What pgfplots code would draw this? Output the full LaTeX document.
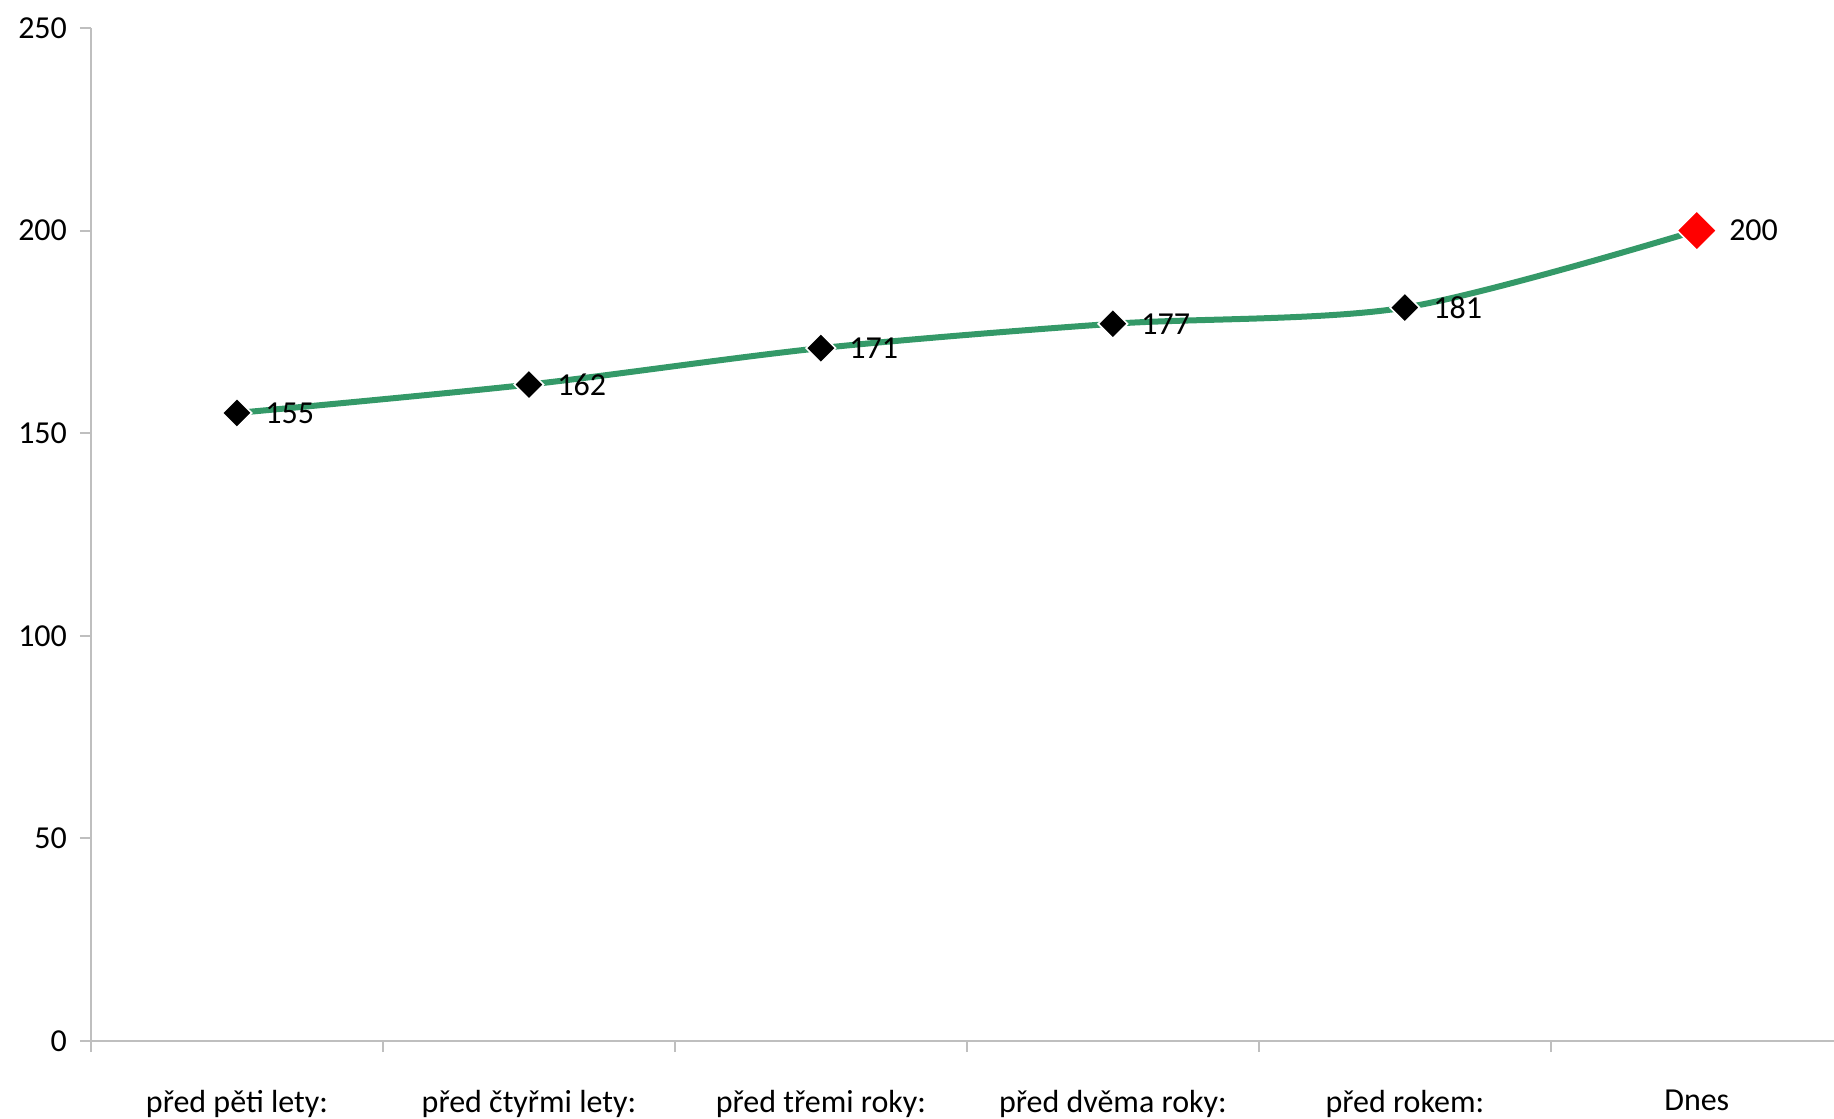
\documentclass[border=0pt]{standalone}
\usepackage{pgfplots}
\pgfplotsset{compat=1.18}
\usepackage{fontspec}
\setmainfont{Carlito}
\definecolor{linegreen}{RGB}{52,153,104}
\definecolor{axisgray}{RGB}{191,191,191}
\begin{document}
\fontsize{16pt}{19pt}\selectfont
\begin{tikzpicture}
\useasboundingbox (-45.5pt,-38.5pt) rectangle (871.5pt,520.5pt);
\begin{axis}[
  scale only axis, width=871.5pt, height=506.5pt,
  xmin=-0.5, xmax=5.47, ymin=0, ymax=250,
  axis x line*=bottom, axis y line*=left,
  axis line style={draw=axisgray, line width=1pt, -},
  tick align=outside, major tick length=5.5pt,
  every tick/.style={draw=axisgray, line width=1pt},
  ytick={0,50,...,250},
  xtick={-0.5,0.5,1.5,2.5,3.5,4.5},
  xticklabels={},
  extra x ticks={0,1,2,3,4,5},
  extra x tick labels={před pěti lety:, před čtyřmi lety:, před třemi roky:, před dvěma roky:, před rokem:, Dnes},
  extra x tick style={major tick length=0pt, xticklabel style={yshift=-19pt}},
  yticklabel style={xshift=-1pt},
  /pgf/number format/assume math mode=true,
  every tick label/.append style={font=\fontsize{16pt}{19pt}\selectfont},
  clip=false,
]
\addplot[linegreen, line width=3pt, smooth] coordinates {(0,155)(1,162)(2,171)(3,177)(4,181)(5,200)};
\addplot[only marks, mark=square*, mark size=5.2pt, mark options={rotate=45, fill=black, draw=white, line width=0.8pt},
  nodes near coords, every node near coord/.append style={anchor=west, xshift=8.5pt, text=black, font=\fontsize{16pt}{19pt}\selectfont}]
  coordinates {(0,155)(1,162)(2,171)(3,177)(4,181)};
\addplot[only marks, mark=square*, mark size=7pt, mark options={rotate=45, fill=red, draw=white, line width=0.8pt},
  nodes near coords, every node near coord/.append style={anchor=west, xshift=10.5pt, text=black, font=\fontsize{16pt}{19pt}\selectfont}]
  coordinates {(5,200)};
\end{axis}
\end{tikzpicture}
\end{document}
